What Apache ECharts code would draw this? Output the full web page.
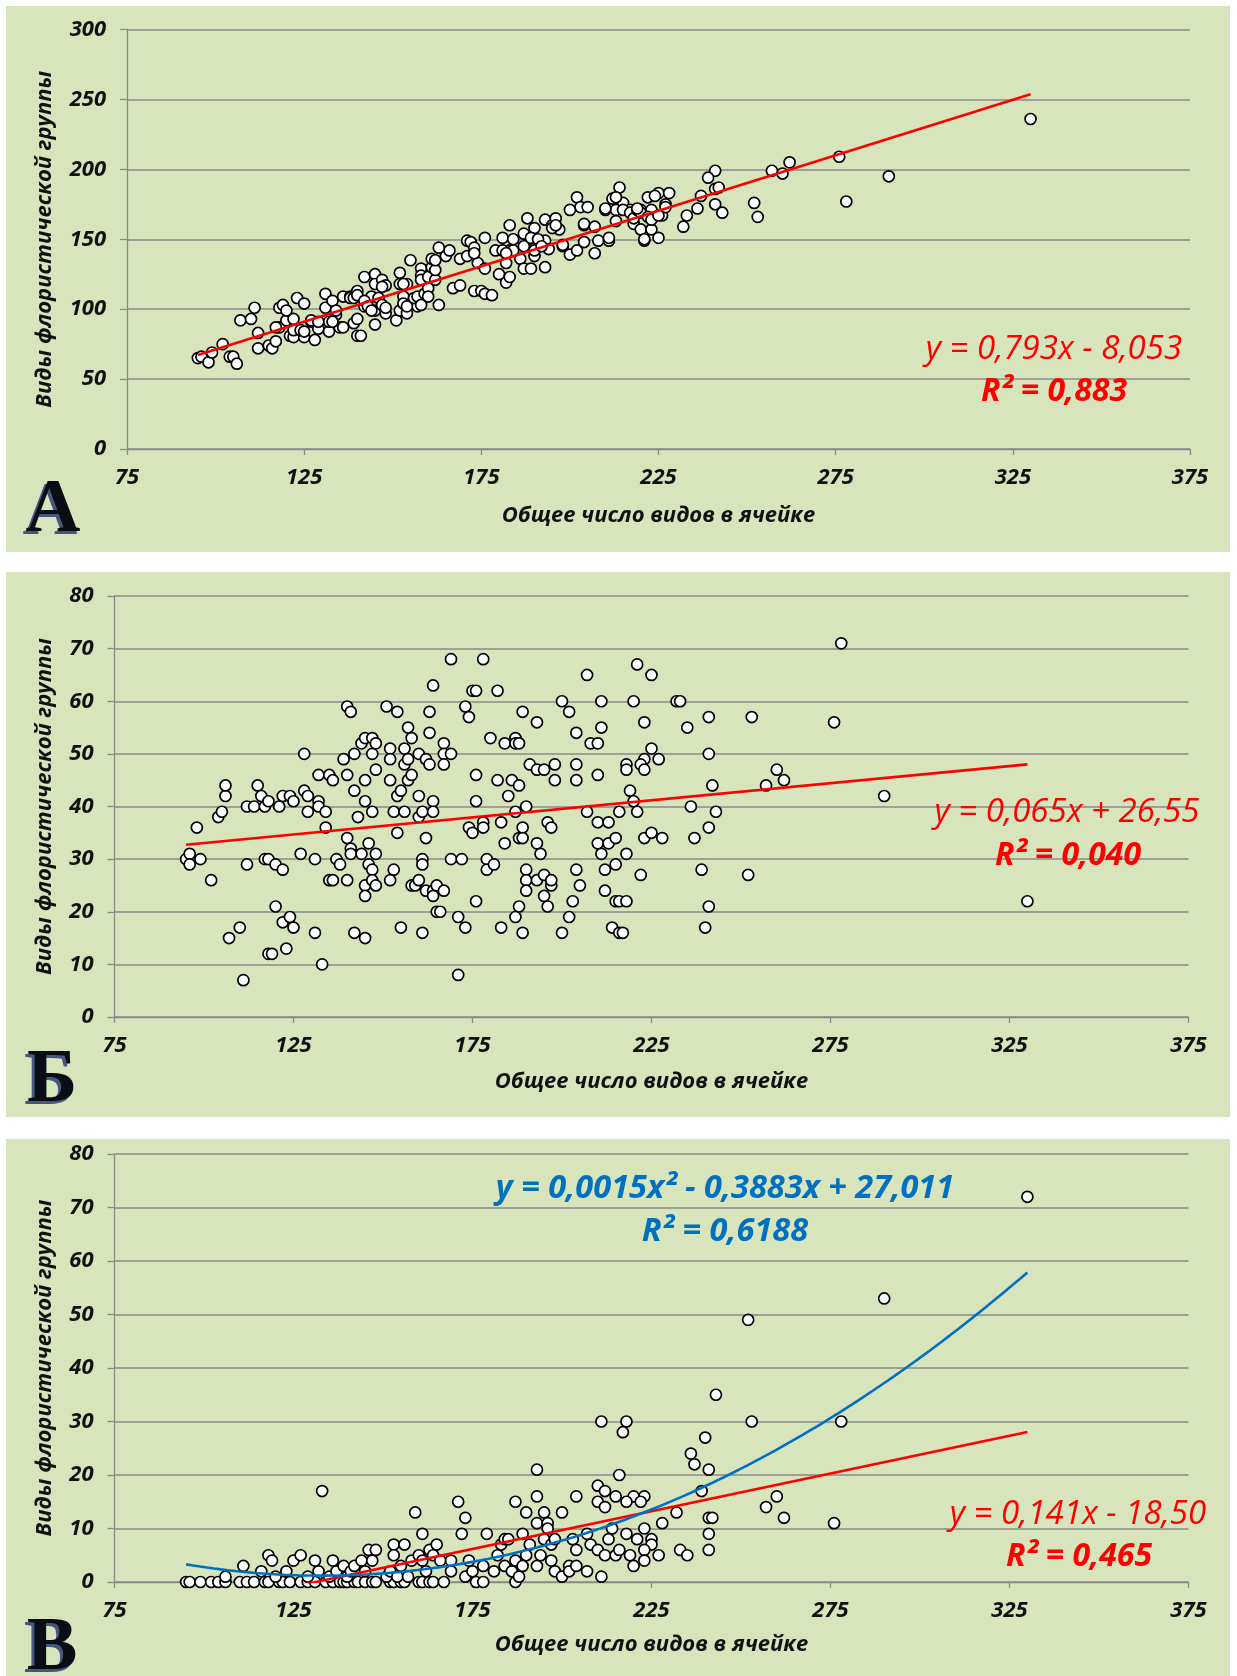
<!DOCTYPE html>
<html><head><meta charset="utf-8">
<script src="https://cdn.jsdelivr.net/npm/echarts@6/dist/echarts.min.js"></script>
<style>html,body{margin:0;padding:0;background:#fff}#c{width:1237px;height:1676px}</style>
</head><body><div id="c"></div><script>
// ---------- DATA ----------
const xTicks = [75, 125, 175, 225, 275, 325, 375];
const yTicksA = [0, 50, 100, 150, 200, 250, 300];
const yTicksBC = [0, 10, 20, 30, 40, 50, 60, 70, 80];
const xTitle = 'Общее число видов в ячейке';
const yTitle = 'Виды флористической группы';
const panelLetters = ['А', 'Б', 'В'];

const pointsA = [
[95,65],[96,66],[98,62],[99,69],[102,75],[104,66],[105,66],[106,61],[107,92],[110,93],[111,101],[112,83],[112,72],[115,74],[116,72],[117,77],[118,87],[118,101],[119,103],[120,92],[121,81],[122,80],[122,93],[123,108],[125,104],[125,80],[128,78],[127,91],[129,86],[131,111],[131,101],[132,84],[132,91],[133,106],[134,96],[135,87],[136,109],[138,109],[139,90],[140,81],[141,81],[140,93],[140,113],[142,123],[142,102],[144,109],[145,125],[145,118],[145,99],[145,89],[146,108],[147,121],[147,103],[148,117],[148,97],[151,92],[152,126],[152,99],[153,109],[154,118],[154,97],[155,135],[156,105],[157,102],
[120,99],[117,87],[122,85],[124,85],[125,84],[127,92],[129,91],[133,91],[134,99],[136,87],[138,108],[139,108],[140,110],[142,106],[143,102],[144,99],[147,116],[148,101],[152,118],[153,118],[153,104],[154,102],[156,108],[157,109],
[158,129],[158,103],[159,111],[160,115],[158,124],[158,121],[160,123],[160,109],[161,130],[162,121],[162,128],[163,103],
[161,136],[162,135],[165,138],[166,142],[167,115],[169,136],[169,117],[171,149],[172,148],[173,144],[173,113],[174,133],[175,113],[176,151],[176,129],[176,111],[178,110],[179,142],[180,125],[181,151],[182,119],[182,133],[183,142],[183,160],[184,142],[186,136],[187,129],[187,154],[188,165],[189,129],[190,158],[190,138],[190,149],[193,164],[193,149],[193,130],[194,143],[195,160],[196,165],[197,157],[198,145],[200,171],[200,139],[202,180],[202,142],[203,173],[204,160],[205,173],[204,148],[207,159],[207,140],[208,149],[210,171],[211,149],[212,179],[213,163],[214,187],[215,176],[217,171],[218,161],[220,171],[220,157],[221,149],[222,180],[223,157],[223,171],[225,151],[225,183],[228,183],
[163,144],[171,138],[173,140],[181,142],[182,140],[183,123],[184,150],[187,145],[189,151],[190,142],[191,150],[192,145],[195,158],[196,160],[198,146],[204,161],[213,171],[215,171],[217,169],[218,165],[219,171],[220,169],[222,166],[223,164],[226,167],[227,175],
[330,236],[276,209],[262,205],[260,197],[257,199],[290,195],[278,177],[252,176],[253,166],[241,199],[239,194],[241,186],[242,187],[237,181],[241,175],[243,169],[236,172],[233,167],[232,159],[227,173],[225,167],[224,181],[221,150],[219,172],[210,172],[213,180],[211,151]
];

const pointsB = [
[95,30],[96,31],[96,29],[98,36],[99,30],[102,26],[104,38],[105,39],[106,42],[106,44],[107,15],[110,17],[111,7],[112,29],[112,40],[114,40],[115,44],[116,42],[117,40],[118,41],[117,30],[118,30],[118,12],[119,12],[120,29],[120,21],[121,40],[122,42],[122,28],[122,18],[124,42],[124,19],[125,17],[123,13],[125,41],[127,31],[128,50],[128,43],[129,42],[129,39],[131,30],[131,16],[132,46],[132,41],[132,40],[133,10],[134,39],[134,36],[135,46],[135,26],[136,26],[136,45],[137,30],[138,29],[139,49],[140,59],[141,58],[140,46],[140,34],[140,26],[141,32],[141,31],[142,50],[142,43],[142,16],[143,38],[144,52],[144,31],[145,53],[145,45],[145,41],[145,25],[145,23],[145,15],[146,33],[146,29],[147,53],[147,50],[147,39],[147,28],[147,26],[148,52],[148,47],[148,31],[148,25],[151,59],[152,51],[152,49],[152,45],[152,26],[153,39],[153,28],[154,58],[154,42],[154,35],[155,43],[155,17],[156,51],[156,48],[156,39],[157,55],[157,49],[157,45],[158,53],[158,46],[158,25],[159,25],[160,50],[160,42],[160,38],[160,26],[161,39],[161,30],[161,29],[161,16],[162,49],[162,34],[162,24],[163,58],[163,54],[163,48],[164,63],[164,41],[164,39],[164,24],[164,23],[165,25],[165,20],[166,20],[167,52],[167,50],[167,48],[167,24],[169,68],[169,50],[169,30],[171,8],[171,19],[172,30],[173,59],[173,17],[174,57],[174,36],[175,35],[175,62],[176,62],[176,46],[176,41],[176,22],[178,68],[178,37],[178,36],[179,30],[179,28],[180,53],[181,29],[182,62],[182,45],[183,37],[183,17],[184,52],[184,33],[185,42],[186,45],[187,53],[187,52],[187,39],[187,19],[188,52],[188,34],[188,21],[188,44],[189,58],[189,36],[189,34],[189,16],[190,40],[190,28],[190,26],[190,24],[191,48],[193,56],[193,47],[193,33],[193,26],[194,31],[195,47],[195,27],[195,23],[196,37],[196,21],[197,36],[197,25],[197,26],[198,48],[198,45],[200,60],[200,16],[202,58],[202,19],[203,22],[204,54],[204,48],[204,45],[204,28],[205,25],[207,65],[207,39],[208,52],[210,52],[210,46],[210,37],[210,33],[211,60],[211,55],[211,31],[212,28],[212,24],[213,37],[213,33],[214,17],[215,34],[215,29],[215,22],[216,39],[216,16],
[221,67],[225,65],[220,60],[232,60],[233,60],[223,56],[241,57],[253,57],[276,56],[235,55],[225,51],[223,49],[227,49],[222,48],[218,48],[218,47],[223,47],[241,50],[260,47],[262,45],[257,44],[242,44],[290,42],[219,43],[220,41],[221,39],[236,40],[243,39],[241,36],[223,34],[225,35],[228,34],[237,34],[218,31],[222,27],[239,28],[252,27],[216,22],[218,22],[241,21],[330,22],[217,16],[240,17],[278,71]
];

const pointsC = [
[95,0],[96,0],[99,0],[102,0],[104,0],[106,0],[110,0],[112,0],[114,0],[117,0],[118,0],[121,0],[122,0],[124,0],[127,0],[129,0],[131,0],[134,0],[136,0],[138,0],[139,0],[140,0],[142,0],[143,0],[145,0],[147,0],[148,0],[152,0],[153,0],[155,0],[156,0],[160,0],[161,0],[163,0],[164,0],[167,0],[176,0],[178,0],[187,0],
[106,1],[111,3],[116,2],[118,5],[119,4],[120,1],[123,2],[125,4],[127,5],[129,1],[131,4],[132,2],[133,17],[135,1],[136,4],[137,2],[139,3],[140,1],[141,2],[142,3],[144,4],[145,2],[146,6],[147,4],[148,6],[151,1],[152,2],[153,7],[153,5],[154,1],[155,3],[156,7],[157,1],[158,4],[159,13],[160,5],[161,9],[161,4],[162,2],[163,6],[164,5],[165,7],[166,4],[169,4],[169,2],[171,15],[172,9],[173,12],[173,1],[174,4],[175,2],[178,3],[179,9],[181,2],[182,5],[183,7],[184,3],[184,8],[185,8],[186,2],[187,15],[187,4],[188,1],[189,3],[189,9],[190,13],[190,5],[191,7],[193,16],[193,11],[193,3],[193,21],[194,5],[195,13],[195,8],[196,11],[196,10],[197,4],[197,7],[198,2],[198,8],[200,13],[200,1],[202,3],[202,2],[203,8],[204,16],[204,3],[204,6],[207,2],[207,9],[208,7],[210,18],[210,15],[210,6],[211,30],[211,1],[212,17],[212,14],[212,5],[213,8],[214,10],[215,5],[215,16],
[330,72],[290,53],[252,49],[243,35],[218,30],[217,28],[253,30],[278,30],[240,27],[236,24],[237,22],[241,21],[216,20],[239,17],[223,16],[220,16],[218,15],[222,15],[232,13],[260,16],[257,14],[262,12],[241,12],[242,12],[276,11],[228,11],[223,10],[218,9],[241,9],[221,8],[225,8],[225,7],[223,6],[216,6],[233,6],[241,6],[235,5],[227,5],[219,5],[220,3],[223,4]
];

// trendline coefficients (as displayed; quadratic leading term unrounded 0.00146 -> "0,0015")
const trendA = [0.793, -8.053];
const trendB = [0.065, 26.55];
const trendCLin = [0.141, -18.50];
const trendCPoly = [0.00146, -0.3883, 27.011];
const eqA = ['y = 0,793x - 8,053', 'R² = 0,883'];
const eqB = ['y = 0,065x + 26,55', 'R² = 0,040'];
const eqCPoly = ['y = 0,0015x² - 0,3883x + 27,011', 'R² = 0,6188'];
const eqCLin = ['y = 0,141x - 18,50', 'R² = 0,465'];

// ---------- BUILD ----------
function xRange(pts){ let a=Infinity,b=-Infinity; pts.forEach(p=>{a=Math.min(a,p[0]);b=Math.max(b,p[0]);}); return [a,b]; }
function linLine(pts, c){ const r=xRange(pts); return r.map(x=>[x, c[0]*x+c[1]]); }
function polyLine(pts, c){ const r=xRange(pts); const out=[]; const n=120; for(let i=0;i<=n;i++){ const x=r[0]+(r[1]-r[0])*i/n; out.push([x, c[0]*x*x+c[1]*x+c[2]]); } return out; }

const FONT = "'Open Sans', Lato, sans-serif";
const GRID_C = '#8a8a8a';
const TXT_C = '#111111';
const grids = [
  {left:127, top:29.5, width:1063, height:419.5},
  {left:114.5, top:596, width:1074, height:421},
  {left:114.5, top:1154, width:1074, height:428}
];
const yTickSets = [yTicksA, yTicksBC, yTicksBC];
const yNameGaps = [71, 59, 59];
const xNameGaps = [56, 54, 52];

const xAxes = grids.map((g,i)=>({
  type:'value', gridIndex:i, min:xTicks[0], max:xTicks[xTicks.length-1], interval:xTicks[1]-xTicks[0],
  axisLine:{show:true, onZero:false, lineStyle:{color:GRID_C, width:1.3}},
  axisTick:{show:true, length:6, lineStyle:{color:GRID_C, width:1.3}},
  splitLine:{show:false},
  axisLabel:{fontSize:22, fontWeight:'bold', fontStyle:'italic', color:TXT_C, margin:18, fontFamily:FONT, showMinLabel:true, showMaxLabel:true},
  name:xTitle, nameLocation:'middle', nameGap:xNameGaps[i],
  nameTextStyle:{fontSize:22, fontWeight:'bold', fontStyle:'italic', color:TXT_C, fontFamily:FONT}
}));
const yAxes = grids.map((g,i)=>{ const t=yTickSets[i]; return {
  type:'value', gridIndex:i, min:t[0], max:t[t.length-1], interval:t[1]-t[0],
  axisLine:{show:true, lineStyle:{color:GRID_C, width:1.3}},
  axisTick:{show:true, length:7, lineStyle:{color:GRID_C, width:1.3}},
  splitLine:{show:true, lineStyle:{color:GRID_C, width:1.5}},
  axisLabel:{fontSize:22, fontWeight:'bold', fontStyle:'italic', color:TXT_C, margin:21, fontFamily:FONT, showMinLabel:true, showMaxLabel:true},
  name:yTitle, nameLocation:'middle', nameRotate:90, nameGap:yNameGaps[i],
  nameTextStyle:{fontSize:22, fontWeight:'bold', fontStyle:'italic', color:TXT_C, fontFamily:FONT}
};});

function scatter(pts, i){ return {type:'scatter', xAxisIndex:i, yAxisIndex:i, data:pts, symbolSize:11, z:3,
  itemStyle:{color:'#ffffff', borderColor:'#000000', borderWidth:1.7, opacity:1}}; }
function line(data, i, color){ return {type:'line', xAxisIndex:i, yAxisIndex:i, data:data, showSymbol:false, symbol:'none', clip:true, z:5,
  lineStyle:{color:color, width:2.6}, silent:true}; }

const RED = '#ff0000', BLUE = '#0070c0';
const series = [
  scatter(pointsA,0), line(linLine(pointsA,trendA),0,RED),
  scatter(pointsB,1), line(linLine(pointsB,trendB),1,RED),
  scatter(pointsC,2), line(linLine(pointsC,trendCLin),2,RED), line(polyLine(pointsC,trendCPoly),2,BLUE)
];

function txt(text, x, y, color, size, bold){ return {type:'text', x:x, y:y, z:10, silent:true,
  style:{text:text, fill:color, fontSize:size, fontWeight:bold?'bold':'normal', fontStyle:'italic', fontFamily:FONT, align:'center', verticalAlign:'middle'}}; }
function letter(ch, x, y){ return [
  {type:'text', x:x-2, y:y+2, z:10, silent:true, style:{text:ch, fill:'#44587f', fontSize:76, fontWeight:'bold', fontFamily:"'Liberation Serif','DejaVu Serif',serif", align:'center', verticalAlign:'middle'}},
  {type:'text', x:x+1, y:y-1, z:11, silent:true, style:{text:ch, fill:'#0a0d14', fontSize:76, fontWeight:'bold', fontFamily:"'Liberation Serif','DejaVu Serif',serif", align:'center', verticalAlign:'middle'}}
]; }
const BG = '#d8e4bc';
const graphics = [
  {type:'rect', z:-10, silent:true, shape:{x:6,y:6,width:1224,height:546}, style:{fill:BG}},
  {type:'rect', z:-10, silent:true, shape:{x:6,y:572,width:1224,height:545}, style:{fill:BG}},
  {type:'rect', z:-10, silent:true, shape:{x:6,y:1139,width:1224,height:537}, style:{fill:BG}},
  txt(eqA[0],1054,350,RED,33,false), txt(eqA[1],1054,392,RED,32,true),
  txt(eqB[0],1067,813,RED,33,false), txt(eqB[1],1068,856,RED,32,true),
  txt(eqCPoly[0],725,1189,BLUE,32.5,true), txt(eqCPoly[1],725,1232,BLUE,32.5,true),
  txt(eqCLin[0],1078,1515,RED,33,false), txt(eqCLin[1],1079,1557,RED,32,true)
].concat(letter(panelLetters[0],52,512), letter(panelLetters[1],51,1082), letter(panelLetters[2],51,1650));

const chart = echarts.init(document.getElementById('c'), null, {renderer:'canvas'});
chart.setOption({
  backgroundColor:'#ffffff', animation:false,
  grid:grids, xAxis:xAxes, yAxis:yAxes, series:series,
  graphic:{elements:graphics}
});
</script></body></html>
